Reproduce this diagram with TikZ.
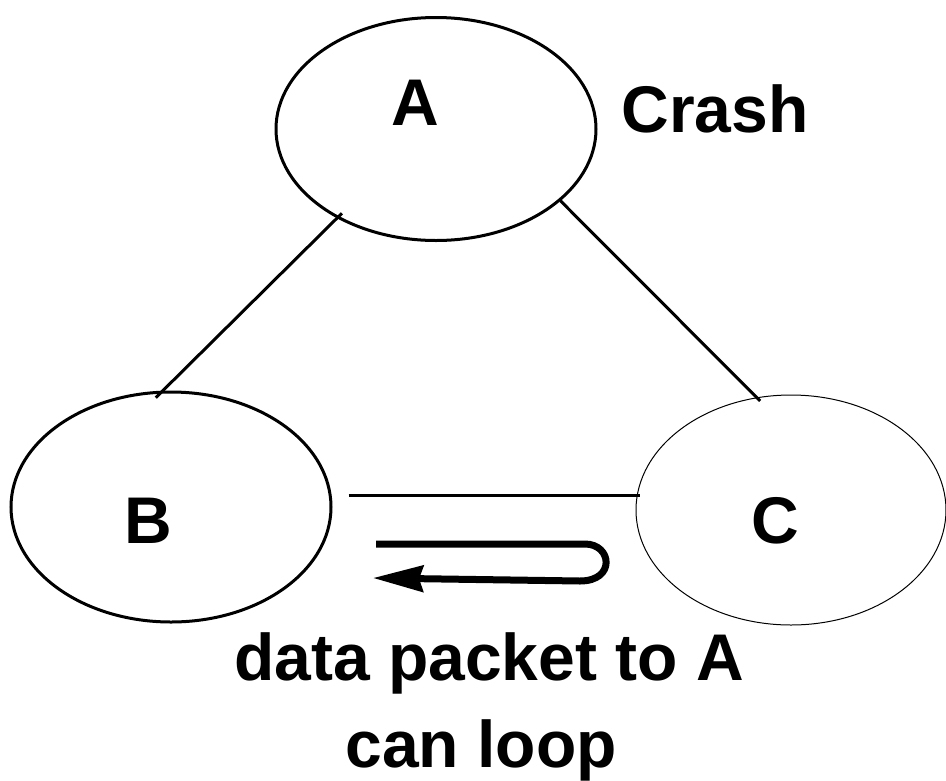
\documentclass[tikz,border=0pt]{standalone}
\usepackage{fontspec}
\setmainfont{Liberation Sans}
\usetikzlibrary{arrows.meta,shapes.geometric}
\begin{document}
\begin{tikzpicture}[x=1pt,y=-1pt,
  nodeshape/.style={draw,ellipse,line width=3pt,inner sep=0pt},
  thinshape/.style={draw,ellipse,line width=1pt,inner sep=0pt},
  bigtext/.style={font=\fontsize{66}{79}\selectfont\bfseries,inner sep=0pt,anchor=base},
  link/.style={line width=3pt},
  looparrow/.style={line width=7pt,-{Stealth[length=50pt,width=26pt,inset=4pt]}}]
\useasboundingbox (0,0) rectangle (946,780);

% the three routers
\node[nodeshape,minimum width=320pt,minimum height=223pt] (A) at (436,129) {};
\node[nodeshape,minimum width=320pt,minimum height=230pt] (B) at (171,507) {};
\node[thinshape,minimum width=310pt,minimum height=230pt] (C) at (791,510) {};

% labels
\node[bigtext] (la) at (415,125) {A};
\node[bigtext] (lb) at (148,543) {B};
\node[bigtext] (lc) at (775,543) {C};
\node[bigtext] (crash) at (715,132) {Crash};
\node[bigtext] (cap1) at (489,680) {data packet to A};
\node[bigtext] (cap2) at (481,767) {can loop};

% links
\draw[link,shorten <=-7pt,shorten >=-10pt] (A.222) -- (B.94.5);
\draw[link,shorten >=-5pt] (A.330.6) -- (C.107.8);
\draw[link] ([xshift=16pt,yshift=12pt]B.east) -- ([xshift=4pt,yshift=15pt]C.west);

% looping packet
\coordinate (ls) at (376,544);
\coordinate (le) at (373,578);
\draw[looparrow] (ls) -- (585,544) .. controls (612,544) and (616,581) .. (580,581) -- (le);
\end{tikzpicture}
\end{document}
